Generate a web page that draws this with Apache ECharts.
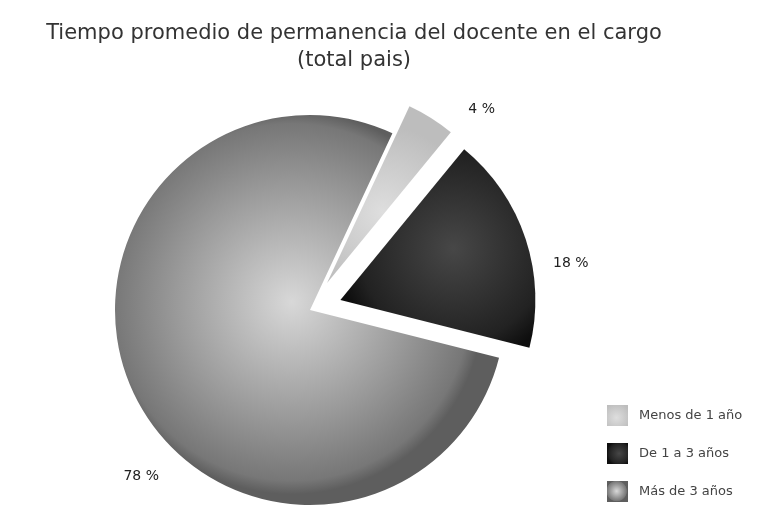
<!DOCTYPE html>
<html>
<head>
<meta charset="utf-8">
<script src="https://cdn.jsdelivr.net/npm/echarts@6/dist/echarts.min.js"></script>
<style>
  html, body { margin: 0; padding: 0; background: #ffffff; }
  #chart { width: 760px; height: 508px; }
</style>
</head>
<body>
<div id="chart"></div>
<script>
// Tiempo de permanencia del docente en el cargo (total país), en %
const categories = ['Menos de 1 año', 'De 1 a 3 años', 'Más de 3 años'];
const shares = [4, 18, 78];
const exploded = [true, true, false];
// Nudges for the percentage labels, [dx, dy] in px
const labelNudge = [[22, 2], [7, 28], [45, 78]];

// Shaded fills: light centre fading to a darker rim
const fills = [
  { type: 'radial', x: 0.45, y: 0.6, r: 0.7,
    colorStops: [{ offset: 0, color: '#dedede' }, { offset: 1, color: '#bdbdbd' }] },
  { type: 'radial', x: 0.58, y: 0.5, r: 0.6,
    colorStops: [{ offset: 0, color: '#474747' }, { offset: 0.8, color: '#222222' }, { offset: 1, color: '#0e0e0e' }] },
  { type: 'radial', x: 0.46, y: 0.48, r: 0.5,
    colorStops: [{ offset: 0, color: '#d8d8d8' }, { offset: 0.6, color: '#9a9a9a' }, { offset: 0.93, color: '#777777' }, { offset: 1, color: '#5e5e5e' }] }
];

const chart = echarts.init(document.getElementById('chart'), null, { renderer: 'canvas' });

chart.setOption({
  animation: false,
  backgroundColor: '#ffffff',
  title: {
    text: 'Tiempo promedio de permanencia del docente en el cargo\n(total pais)',
    left: 349,
    top: 15,
    textAlign: 'center',
    textStyle: {
      fontFamily: 'DejaVu Sans',
      fontSize: 21,
      fontWeight: 'normal',
      color: '#333333',
      lineHeight: 27
    }
  },
  legend: {
    orient: 'vertical',
    left: 607,
    top: 405,
    height: 103,
    padding: 0,
    itemWidth: 21,
    itemHeight: 21,
    itemGap: 17,
    icon: 'rect',
    data: categories,
    textStyle: { fontFamily: 'DejaVu Sans', fontSize: 13, color: '#444444', padding: [0, 0, 0, 6] }
  },
  series: [{
    type: 'pie',
    center: [310, 310],
    radius: 195,
    startAngle: 65,
    clockwise: true,
    selectedMode: 'multiple',
    selectedOffset: 32,
    emphasis: { disabled: true },
    label: {
      show: true,
      position: 'outside',
      formatter: '{c} %',
      fontFamily: 'DejaVu Sans',
      fontSize: 14,
      color: '#222222'
    },
    labelLine: { show: false, length: 12, length2: 4 },
    labelLayout: (p) => ({ dx: labelNudge[p.dataIndex][0], dy: labelNudge[p.dataIndex][1] }),
    data: categories.map((name, i) => ({
      name: name,
      value: shares[i],
      selected: exploded[i],
      itemStyle: { color: fills[i] }
    }))
  }]
});
</script>
</body>
</html>
